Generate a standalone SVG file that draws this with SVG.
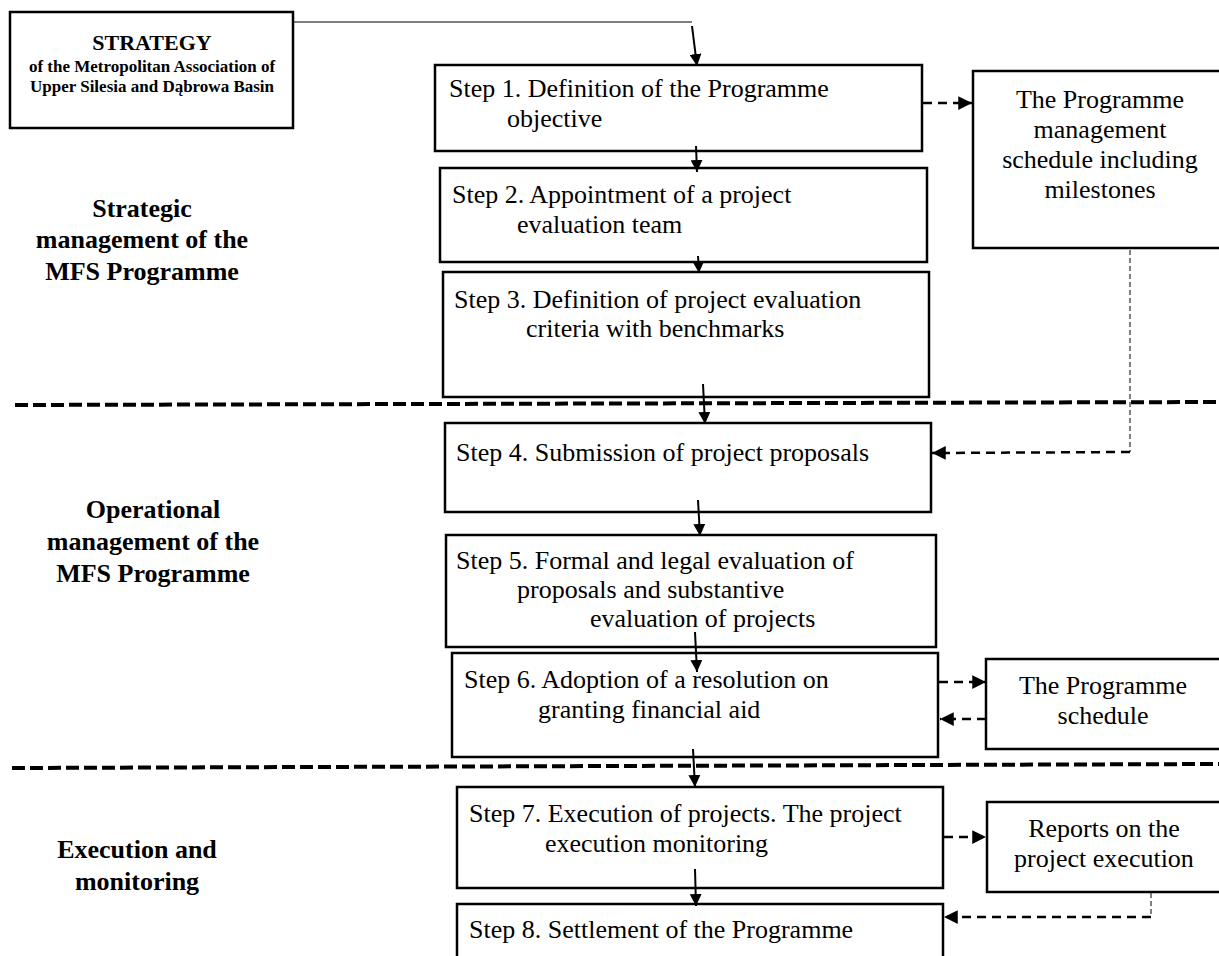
<svg xmlns="http://www.w3.org/2000/svg" width="1219" height="956" viewBox="0 0 1219 956">
<style>
.box{fill:#fff;stroke:#000;stroke-width:2.5}
.t{font-family:"Liberation Serif","Times New Roman",serif;font-size:26px;fill:#000}
.b{font-family:"Liberation Serif","Times New Roman",serif;font-size:26px;font-weight:bold;fill:#000}
.sa{stroke:#000;stroke-width:2;fill:none}
.da{stroke:#000;stroke-width:2.5;fill:none;stroke-dasharray:9 6}
.thin{stroke:#000;stroke-width:1;fill:none;stroke-dasharray:5 3}
.sep{stroke:#000;stroke-width:4;fill:none;stroke-dasharray:13 5}
</style>
<defs>
<marker id="ah" viewBox="0 0 10 10" refX="10" refY="5" markerWidth="6" markerHeight="6" markerUnits="strokeWidth" orient="auto">
<path d="M0,0 L10,5 L0,10 z" fill="#000"/>
</marker>
<marker id="ahd" viewBox="0 0 10 10" refX="10" refY="5" markerWidth="5.5" markerHeight="5.5" markerUnits="strokeWidth" orient="auto">
<path d="M0,0 L10,5 L0,10 z" fill="#000"/>
</marker>
</defs>
<g id="separators">
<line class="sep" x1="15" y1="405" x2="1219" y2="402"/>
<line class="sep" x1="12" y1="768" x2="1219" y2="764"/>
</g>
<g id="labels">
<text class="b" text-anchor="middle"><tspan x="142" y="217">Strategic</tspan><tspan x="142" y="248">management of the</tspan><tspan x="142" y="280">MFS Programme</tspan></text>
<text class="b" text-anchor="middle"><tspan x="153" y="518">Operational</tspan><tspan x="153" y="550">management of the</tspan><tspan x="153" y="582">MFS Programme</tspan></text>
<text class="b" text-anchor="middle"><tspan x="137" y="858">Execution and</tspan><tspan x="137" y="890">monitoring</tspan></text>
</g>
<g id="strategy">
<rect class="box" x="10" y="12" width="283" height="116"/>
<text class="b" text-anchor="middle" x="152" y="50" style="font-size:22px">STRATEGY</text>
<text class="b" text-anchor="middle" x="152" y="72" style="font-size:17px">of the Metropolitan Association of</text>
<text class="b" text-anchor="middle" x="152" y="92" style="font-size:17px">Upper Silesia and Dąbrowa Basin</text>
</g>
<g id="step1">
<rect class="box" x="435" y="65" width="487" height="86"/>
<text class="t" x="449" y="97">Step 1. Definition of the Programme</text>
<text class="t" x="507" y="127">objective</text>
</g>
<g id="step2">
<rect class="box" x="440" y="168" width="487" height="94"/>
<text class="t" x="452" y="203">Step 2. Appointment of a project</text>
<text class="t" x="517" y="233">evaluation team</text>
</g>
<g id="step3">
<rect class="box" x="443" y="272" width="486" height="125"/>
<text class="t" x="454" y="308">Step 3. Definition of project evaluation</text>
<text class="t" x="526" y="337">criteria with benchmarks</text>
</g>
<g id="step4">
<rect class="box" x="445" y="423" width="486" height="89"/>
<text class="t" x="456" y="461">Step 4. Submission of project proposals</text>
</g>
<g id="step5">
<rect class="box" x="446" y="535" width="490" height="112"/>
<text class="t" x="456" y="569">Step 5. Formal and legal evaluation of</text>
<text class="t" x="517" y="598">proposals and substantive</text>
<text class="t" x="590" y="627">evaluation of projects</text>
</g>
<g id="step6">
<rect class="box" x="452" y="653" width="486" height="104"/>
<text class="t" x="464" y="688">Step 6. Adoption of a resolution on</text>
<text class="t" x="538" y="718">granting financial aid</text>
</g>
<g id="step7">
<rect class="box" x="457" y="787" width="486" height="101"/>
<text class="t" x="469" y="822">Step 7. Execution of projects. The project</text>
<text class="t" x="545" y="852">execution monitoring</text>
</g>
<g id="step8">
<rect class="box" x="457" y="904" width="486" height="70"/>
<text class="t" x="469" y="938">Step 8. Settlement of the Programme</text>
</g>
<g id="pms">
<rect class="box" x="973" y="71" width="256" height="177"/>
<text class="t" text-anchor="middle" x="1100" y="108">The Programme</text>
<text class="t" text-anchor="middle" x="1100" y="138">management</text>
<text class="t" text-anchor="middle" x="1100" y="168">schedule including</text>
<text class="t" text-anchor="middle" x="1100" y="198">milestones</text>
</g>
<g id="schedule">
<rect class="box" x="986" y="659" width="243" height="90"/>
<text class="t" text-anchor="middle" x="1103" y="694">The Programme</text>
<text class="t" text-anchor="middle" x="1103" y="724">schedule</text>
</g>
<g id="reports">
<rect class="box" x="987" y="802" width="242" height="90"/>
<text class="t" text-anchor="middle" x="1104" y="837">Reports on the</text>
<text class="t" text-anchor="middle" x="1104" y="867">project execution</text>
</g>
<g id="connectors">
<polyline points="293,22 692,22" stroke="#000" stroke-width="1" fill="none"/>
<line class="sa" x1="692" y1="26" x2="697" y2="66" marker-end="url(#ah)"/>
<line class="sa" x1="696" y1="146" x2="697" y2="172" marker-end="url(#ah)"/>
<line class="sa" x1="698" y1="256" x2="699" y2="273" marker-end="url(#ah)"/>
<line class="sa" x1="703" y1="384" x2="705" y2="424" marker-end="url(#ah)"/>
<line class="sa" x1="698" y1="500" x2="700" y2="536" marker-end="url(#ah)"/>
<line class="sa" x1="695" y1="632" x2="697" y2="672" marker-end="url(#ah)"/>
<line class="sa" x1="693" y1="749" x2="695" y2="787" marker-end="url(#ah)"/>
<line class="sa" x1="695" y1="869" x2="696" y2="906" marker-end="url(#ah)"/>
<line class="da" x1="923" y1="103" x2="972" y2="103" marker-end="url(#ahd)"/>
<polyline class="thin" points="1130,250 1130,452"/>
<line class="da" x1="1130" y1="452" x2="932" y2="453" marker-end="url(#ahd)"/>
<line class="da" x1="939" y1="682" x2="986" y2="682" marker-end="url(#ahd)"/>
<line class="da" x1="986" y1="719" x2="940" y2="719" marker-end="url(#ahd)"/>
<line class="da" x1="944" y1="837" x2="986" y2="837" marker-end="url(#ahd)"/>
<polyline class="thin" points="1151,893 1151,917"/>
<line class="da" x1="1151" y1="917" x2="944" y2="917" marker-end="url(#ahd)"/>
</g>
</svg>
